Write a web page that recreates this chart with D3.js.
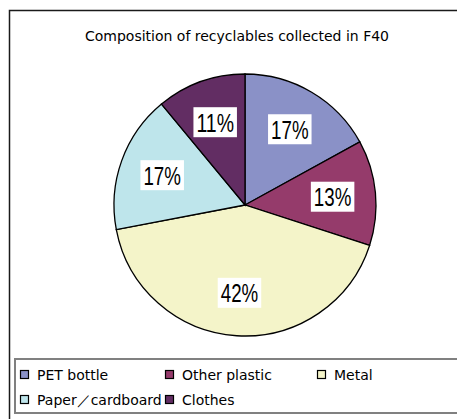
<!DOCTYPE html>
<html>
<head>
<meta charset="utf-8">
<script src="https://cdn.jsdelivr.net/npm/d3@7"></script>
<style>
  body { margin: 0; background: #fff; }
</style>
</head>
<body>
<div id="chart"></div>
<script>
const title = "Composition of recyclables collected in F40";
const categories = ["PET bottle", "Other plastic", "Metal", "Paper\uFF0Fcardboard", "Clothes"];
const shares = [17, 13, 42, 17, 11];
const colors = ["#8a91c7", "#953b6b", "#f4f4c9", "#bee5eb", "#622d63"];

const width = 457, height = 419;
const cx = 245, cy = 205, radius = 131;

const svg = d3.select("#chart").append("svg")
    .attr("width", width)
    .attr("height", height);

// outer chart frame (runs off the right/bottom edge)
svg.append("rect")
    .attr("x", 9.5).attr("y", 10.5)
    .attr("width", 470).attr("height", 430)
    .attr("fill", "#fff")
    .attr("stroke", "#1a1a1a")
    .attr("stroke-width", 1.5);

svg.append("text")
    .attr("x", 237).attr("y", 41)
    .attr("text-anchor", "middle")
    .style("font-family", "'DejaVu Sans', sans-serif")
    .style("font-size", "14px")
    .attr("fill", "#000")
    .text(title);

const data = categories.map((c, i) => ({ name: c, value: shares[i], color: colors[i] }));

const pie = d3.pie().sort(null).value(d => d.value);
const arc = d3.arc().innerRadius(0).outerRadius(radius);
const labelArc = d3.arc().innerRadius(88).outerRadius(88);

const g = svg.append("g").attr("transform", `translate(${cx},${cy})`);

const slices = pie(data);

g.selectAll(".slice")
    .data(slices)
    .enter().append("path")
    .attr("class", "slice")
    .attr("d", arc)
    .attr("fill", d => d.data.color)
    .attr("stroke", "#000")
    .attr("stroke-width", 1.3);

const fs = 25;
const labels = g.selectAll(".lbl")
    .data(slices)
    .enter().append("g")
    .attr("class", "lbl")
    .attr("transform", d => `translate(${labelArc.centroid(d)})`);

labels.append("rect")
    .attr("fill", "#fff")
    .attr("x", d => -(String(d.data.value).length + 1) * fs * 0.25 - 3)
    .attr("y", -15)
    .attr("width", d => (String(d.data.value).length + 1) * fs * 0.5 + 6)
    .attr("height", 30);

labels.append("text")
    .attr("text-anchor", "middle")
    .attr("y", 9.5)
    .style("font-family", "'Liberation Sans', Arial, sans-serif")
    .style("font-size", fs + "px")
    .attr("textLength", d => (String(d.data.value).length + 1) * fs * 0.5)
    .attr("lengthAdjust", "spacingAndGlyphs")
    .attr("fill", "#000")
    .text(d => d.data.value + "%");

// legend
svg.append("rect")
    .attr("x", 15).attr("y", 359)
    .attr("width", 460).attr("height", 54)
    .attr("fill", "#fff")
    .attr("stroke", "#808080")
    .attr("stroke-width", 2);

const colX = [20, 165, 317];
const rowY = [375, 400];

const items = svg.selectAll(".leg")
    .data(data)
    .enter().append("g")
    .attr("class", "leg")
    .attr("transform", (d, i) => `translate(${colX[i % 3]},${rowY[Math.floor(i / 3)]})`);

items.append("rect")
    .attr("x", 0.5).attr("y", -4.5)
    .attr("width", 8).attr("height", 8)
    .attr("fill", d => d.color)
    .attr("stroke", "#000")
    .attr("stroke-width", 1.2);

items.append("text")
    .attr("x", 17).attr("y", 5)
    .style("font-family", "'DejaVu Sans', sans-serif")
    .style("font-size", "14px")
    .attr("fill", "#000")
    .text(d => d.name);
</script>
</body>
</html>
